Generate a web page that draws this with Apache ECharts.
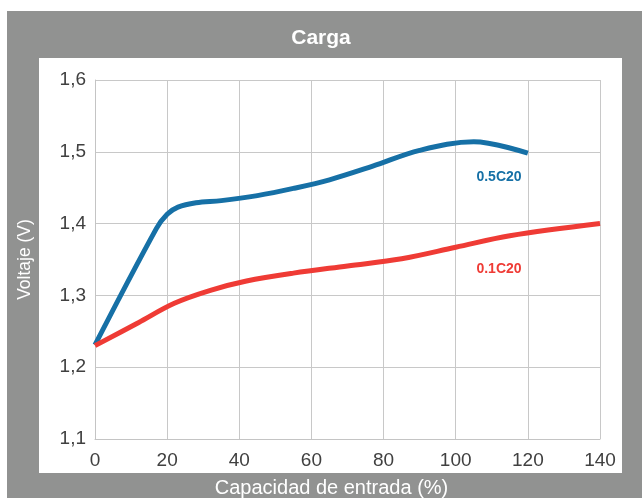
<!DOCTYPE html>
<html>
<head>
<meta charset="utf-8">
<script src="https://cdn.jsdelivr.net/npm/echarts@6/dist/echarts.min.js"></script>
<style>
  html, body { margin: 0; padding: 0; background: #fff; }
  #carga { width: 642px; height: 498px; }
</style>
</head>
<body>
<div id="carga"></div>
<script>
// datos
const xTicks = [0, 20, 40, 60, 80, 100, 120, 140];
const serie05 = [
  [0, 1.231], [17, 1.393], [20, 1.413], [23, 1.423], [28, 1.429], [35, 1.432],
  [45, 1.439], [55, 1.449], [65, 1.461], [77, 1.480], [90, 1.502], [105, 1.514], [120, 1.498]
];
const serie01 = [
  [0, 1.23], [12, 1.262], [22, 1.289], [32, 1.307], [42, 1.320], [55, 1.331],
  [70, 1.341], [85, 1.351], [100, 1.367], [115, 1.383], [140, 1.40]
];
const nombres = ['0.5C20', '0.1C20'];
const posEtiquetas = [[112, 1.465], [112, 1.337]];

let chartCarga = echarts.init(document.getElementById('carga'));

const etiqueta = (nombre, coord, color) => ({
  symbol: 'circle',
  symbolSize: 2,
  itemStyle: { color: 'transparent' },
  label: {
    show: true, position: 'inside', formatter: nombre, color: color,
    fontWeight: 'bold', fontSize: 14, fontFamily: 'Liberation Sans'
  },
  data: [{ coord: coord }]
});

const option = {
  animation: false,
  textStyle: { fontFamily: 'Liberation Sans' },
  graphic: [
    { type: 'rect', z: -10, shape: { x: 7, y: 11, width: 635, height: 487 }, style: { fill: '#919291' } },
    { type: 'rect', z: -9, shape: { x: 39, y: 58, width: 583, height: 415 }, style: { fill: '#ffffff' } }
  ],
  title: {
    text: 'Carga',
    left: 'center',
    top: 23,
    textStyle: { color: '#fff', fontSize: 21, fontWeight: 'bold' }
  },
  grid: { left: 95, right: 42, top: 80, bottom: 59, outerBoundsMode: 'none' },
  xAxis: {
    type: 'value',
    min: 0,
    max: 140,
    interval: 20,
    name: 'Capacidad de entrada (%)',
    nameLocation: 'middle',
    nameGap: 39,
    nameTextStyle: { color: '#fff', fontSize: 20, padding: [0, 32, 0, 0] },
    axisLine: { show: true, lineStyle: { color: '#c4c4c4' } },
    axisTick: { show: false },
    axisLabel: { color: '#404040', fontSize: 19, margin: 12 },
    splitLine: { lineStyle: { color: '#c8c8c8' } }
  },
  yAxis: {
    type: 'value',
    min: 1.1,
    max: 1.6,
    interval: 0.1,
    name: 'Voltaje (V)',
    nameLocation: 'middle',
    nameGap: 61,
    nameTextStyle: { color: '#fff', fontSize: 17.5 },
    axisLine: { show: true, lineStyle: { color: '#c4c4c4' } },
    axisTick: { show: false },
    axisLabel: {
      color: '#404040',
      fontSize: 19,
      margin: 9,
      formatter: v => v.toFixed(1).replace('.', ',')
    },
    splitLine: { lineStyle: { color: '#c8c8c8' } }
  },
  series: [
    {
      name: nombres[0],
      type: 'line',
      data: serie05,
      smooth: 0.35,
      showSymbol: false,
      lineStyle: { color: '#1670a6', width: 5 },
      markPoint: etiqueta(nombres[0], posEtiquetas[0], '#1670a6')
    },
    {
      name: nombres[1],
      type: 'line',
      data: serie01,
      smooth: 0.35,
      showSymbol: false,
      lineStyle: { color: '#ef3b35', width: 5 },
      markPoint: etiqueta(nombres[1], posEtiquetas[1], '#ef3b35')
    }
  ]
};

option && chartCarga.setOption(option);
window.addEventListener('resize', chartCarga.resize);
</script>
</body>
</html>
